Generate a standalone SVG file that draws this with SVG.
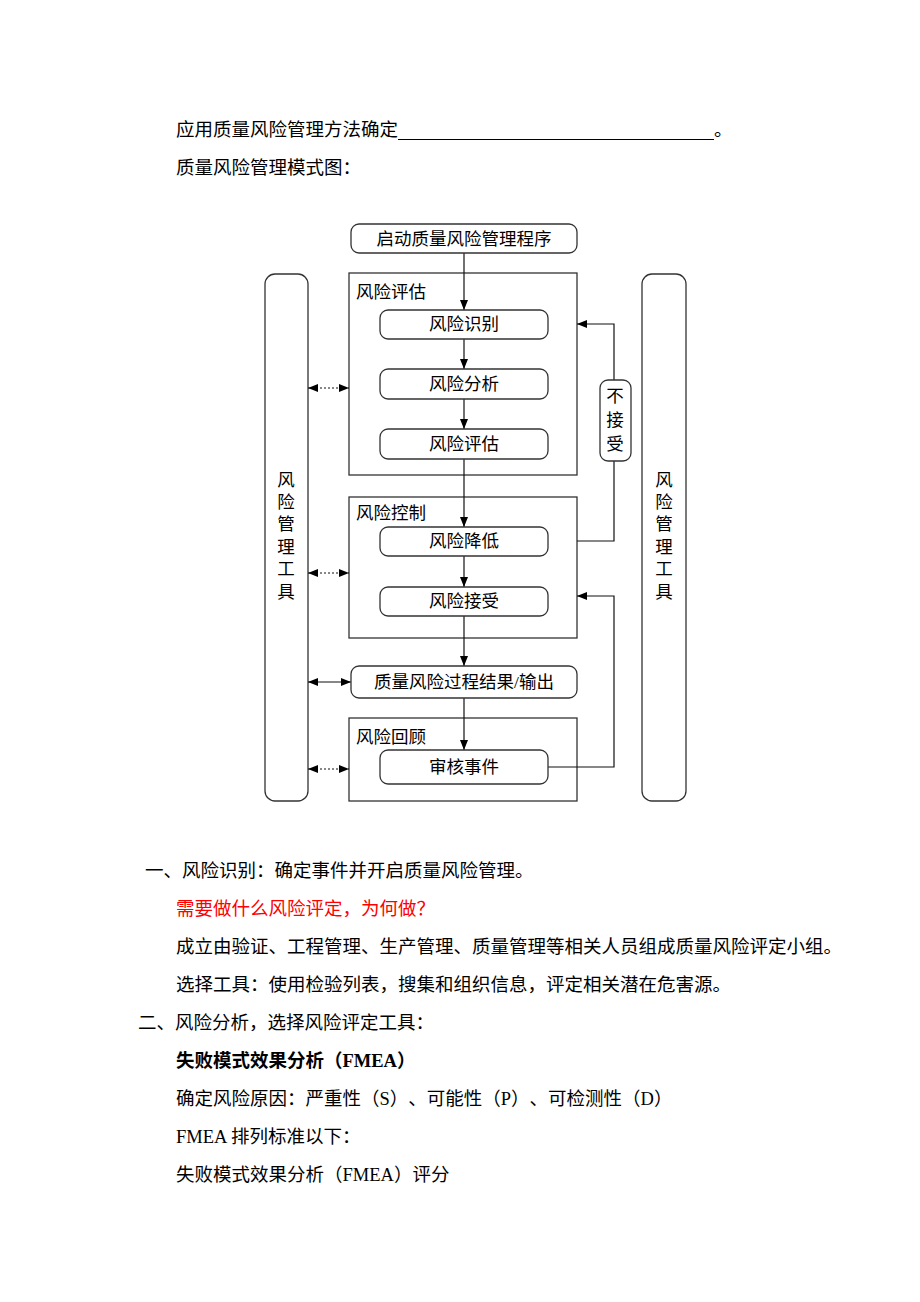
<svg xmlns="http://www.w3.org/2000/svg" width="920" height="1302" viewBox="0 0 920 1302">
<style>
text{font-family:"Liberation Serif","Noto Sans CJK SC",serif;fill:#000;text-spacing-trim:space-all}
.p{font-size:18.5px}
.d{font-size:17.5px}
.c{text-anchor:middle;dominant-baseline:central}
.l{dominant-baseline:central}
.box{fill:#fff;stroke:#333;stroke-width:1.3}
.grp{fill:none;stroke:#333;stroke-width:1.3}
.ln{fill:none;stroke:#111;stroke-width:1.2}
.dot{fill:none;stroke:#111;stroke-width:1.2;stroke-dasharray:2 2}
</style>
<defs>
<marker id="ah" markerUnits="userSpaceOnUse" markerWidth="10" markerHeight="8" refX="10" refY="4" orient="auto-start-reverse"><path d="M0,0 L10,4 L0,8 z" fill="#000"/></marker>
</defs>
<rect width="920" height="1302" fill="#fff"/>

<g id="header">
<text class="p l" x="176" y="130">应用质量风险管理方法确定</text>
<line x1="398" y1="139.5" x2="714" y2="139.5" stroke="#000" stroke-width="1"/>
<text class="p l" x="714" y="130">。</text>
<text class="p l" x="176" y="168">质量风险管理模式图：</text>
</g>

<g id="tools-left"><rect class="box" x="265" y="274" width="43" height="527" rx="10"/>
<text class="d c" x="286" y="480">风</text><text class="d c" x="286" y="502">险</text><text class="d c" x="286" y="524">管</text><text class="d c" x="286" y="547">理</text><text class="d c" x="286" y="569">工</text><text class="d c" x="286" y="592">具</text></g>
<g id="tools-right"><rect class="box" x="642" y="274" width="44" height="527" rx="10"/>
<text class="d c" x="664" y="480">风</text><text class="d c" x="664" y="502">险</text><text class="d c" x="664" y="524">管</text><text class="d c" x="664" y="547">理</text><text class="d c" x="664" y="569">工</text><text class="d c" x="664" y="592">具</text></g>

<g id="grp-assess"><rect class="grp" x="349" y="273" width="228" height="202"/><text class="d l" x="356" y="292">风险评估</text></g>
<g id="grp-control"><rect class="grp" x="349" y="497" width="228" height="141"/><text class="d l" x="356" y="513">风险控制</text></g>
<g id="grp-review"><rect class="grp" x="349" y="718" width="228" height="83"/><text class="d l" x="356" y="737">风险回顾</text></g>

<g id="connectors">
<path class="ln" d="M464,253 V310" marker-end="url(#ah)"/>
<path class="ln" d="M464,339 V369" marker-end="url(#ah)"/>
<path class="ln" d="M464,399 V429" marker-end="url(#ah)"/>
<path class="ln" d="M464,459 V527" marker-end="url(#ah)"/>
<path class="ln" d="M464,556 V587" marker-end="url(#ah)"/>
<path class="ln" d="M464,616 V666" marker-end="url(#ah)"/>
<path class="ln" d="M464,698 V750" marker-end="url(#ah)"/>
<path class="ln" d="M577,541 H614 V324 H577" marker-end="url(#ah)"/>
<path class="ln" d="M548,767 H614 V596 H577" marker-end="url(#ah)"/>
<path class="dot" d="M308,388 H349" marker-start="url(#ah)" marker-end="url(#ah)"/>
<path class="dot" d="M308,573 H349" marker-start="url(#ah)" marker-end="url(#ah)"/>
<path class="ln" d="M308,682 H351" marker-start="url(#ah)" marker-end="url(#ah)"/>
<path class="dot" d="M308,769 H349" marker-start="url(#ah)" marker-end="url(#ah)"/>
</g>

<g id="start"><rect class="box" x="351" y="224" width="226" height="29" rx="8"/><text class="d c" x="464" y="239">启动质量风险管理程序</text></g>
<g id="identify"><rect class="box" x="380" y="310" width="168" height="29" rx="8"/><text class="d c" x="464" y="324">风险识别</text></g>
<g id="analyze"><rect class="box" x="380" y="369" width="168" height="30" rx="8"/><text class="d c" x="464" y="384">风险分析</text></g>
<g id="evaluate"><rect class="box" x="380" y="429" width="168" height="30" rx="8"/><text class="d c" x="464" y="444">风险评估</text></g>
<g id="reduce"><rect class="box" x="380" y="527" width="168" height="29" rx="8"/><text class="d c" x="464" y="541">风险降低</text></g>
<g id="accept"><rect class="box" x="380" y="587" width="168" height="29" rx="8"/><text class="d c" x="464" y="601">风险接受</text></g>
<g id="output"><rect class="box" x="351" y="666" width="226" height="32" rx="8"/><text class="d c" x="464" y="682">质量风险过程结果/输出</text></g>
<g id="audit"><rect class="box" x="380" y="750" width="168" height="34" rx="8"/><text class="d c" x="464" y="767">审核事件</text></g>
<g id="not-accept"><rect class="box" x="600" y="380" width="31" height="81" rx="8"/><text class="d c" x="615" y="396">不</text><text class="d c" x="615" y="420">接</text><text class="d c" x="615" y="444">受</text></g>

<g id="body">
<text class="p l" x="145" y="871">一、风险识别：确定事件并开启质量风险管理。</text>
<text class="p l" x="176" y="909" style="fill:#f00">需要做什么风险评定，为何做？</text>
<text class="p l" x="176" y="947">成立由验证、工程管理、生产管理、质量管理等相关人员组成质量风险评定小组。</text>
<text class="p l" x="176" y="985">选择工具：使用检验列表，搜集和组织信息，评定相关潜在危害源。</text>
<text class="p l" x="138" y="1023">二、风险分析，选择风险评定工具：</text>
<text class="p l" x="176" y="1061" font-weight="bold">失败模式效果分析（FMEA）</text>
<text class="p l" x="176" y="1099">确定风险原因：严重性（S）、可能性（P）、可检测性（D）</text>
<text class="p l" x="176" y="1137">FMEA 排列标准以下：</text>
<text class="p l" x="176" y="1175">失败模式效果分析（FMEA）评分</text>
</g>
</svg>
